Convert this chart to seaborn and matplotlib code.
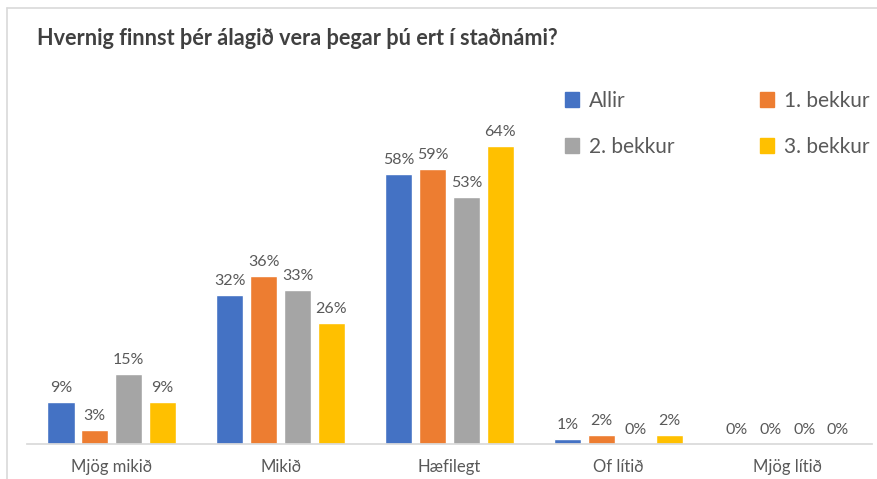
import pandas as pd
import seaborn as sns
import matplotlib.pyplot as plt
from matplotlib.lines import Line2D

categories = ['Mjög mikið', 'Mikið', 'Hæfilegt', 'Of lítið', 'Mjög lítið']
groups = ['Allir', '1. bekkur', '2. bekkur', '3. bekkur']
allir = [9, 32, 58, 1, 0]
bekkur1 = [3, 36, 59, 2, 0]
bekkur2 = [15, 33, 53, 0, 0]
bekkur3 = [9, 26, 64, 2, 0]
colors = ['#4472C4', '#ED7D31', '#A5A5A5', '#FFC000']

title = 'Hvernig finnst þér álagið vera þegar þú ert í staðnámi?'

rows = []
for name, vals in zip(groups, [allir, bekkur1, bekkur2, bekkur3]):
    for cat, v in zip(categories, vals):
        rows.append({'Svar': cat, 'Hópur': name, 'Hlutfall': v})
df = pd.DataFrame(rows)

sns.set_theme(style='white')
plt.rcParams['font.family'] = ['Lato', 'DejaVu Sans']
text_color = '#595959'

fig = plt.figure(figsize=(8.78, 4.79), dpi=100)
ax = fig.add_axes([0.031, 0.073, 0.962, 0.779])

sns.barplot(data=df, x='Svar', y='Hlutfall', hue='Hópur', order=categories,
            hue_order=groups, palette=colors, width=0.8, gap=0.2,
            saturation=1, ax=ax, legend=False)

for cont in ax.containers:
    ax.bar_label(cont, fmt='%d%%', padding=5, fontsize=11.5, color=text_color)

ax.set_ylim(0, 80)
ax.set_xlim(-0.5, 4.5)
ax.set_xlabel('')
ax.set_ylabel('')
ax.set_yticks([])
for s in ['top', 'right', 'left']:
    ax.spines[s].set_visible(False)
ax.spines['bottom'].set_color('#D9D9D9')
ax.tick_params(axis='x', length=0, pad=11, labelsize=12, labelcolor=text_color)

# legend is filled column by column, so reorder to read row by row
handles = [plt.Rectangle((0, 0), 1, 1, color=c) for c in colors]
order = [0, 2, 1, 3]
fig.legend([handles[i] for i in order], [groups[i] for i in order], ncol=2,
           loc='upper left', bbox_to_anchor=(0.622, 0.85),
           frameon=False, fontsize=15, handlelength=0.7, handleheight=0.7,
           handletextpad=0.45, columnspacing=4.1, labelspacing=1.25,
           labelcolor=text_color)

fig.text(0.042, 0.92, title, fontsize=15.6, fontweight='bold', color='#404040',
         va='center', ha='left')

border = '#D9D9D9'
fig.add_artist(Line2D([0.008, 1.0], [0.983, 0.983], color=border, lw=1.2))
fig.add_artist(Line2D([0.008, 0.008], [0.0, 0.983], color=border, lw=1.2))

fig.savefig('out.png', dpi=100, facecolor='white')
